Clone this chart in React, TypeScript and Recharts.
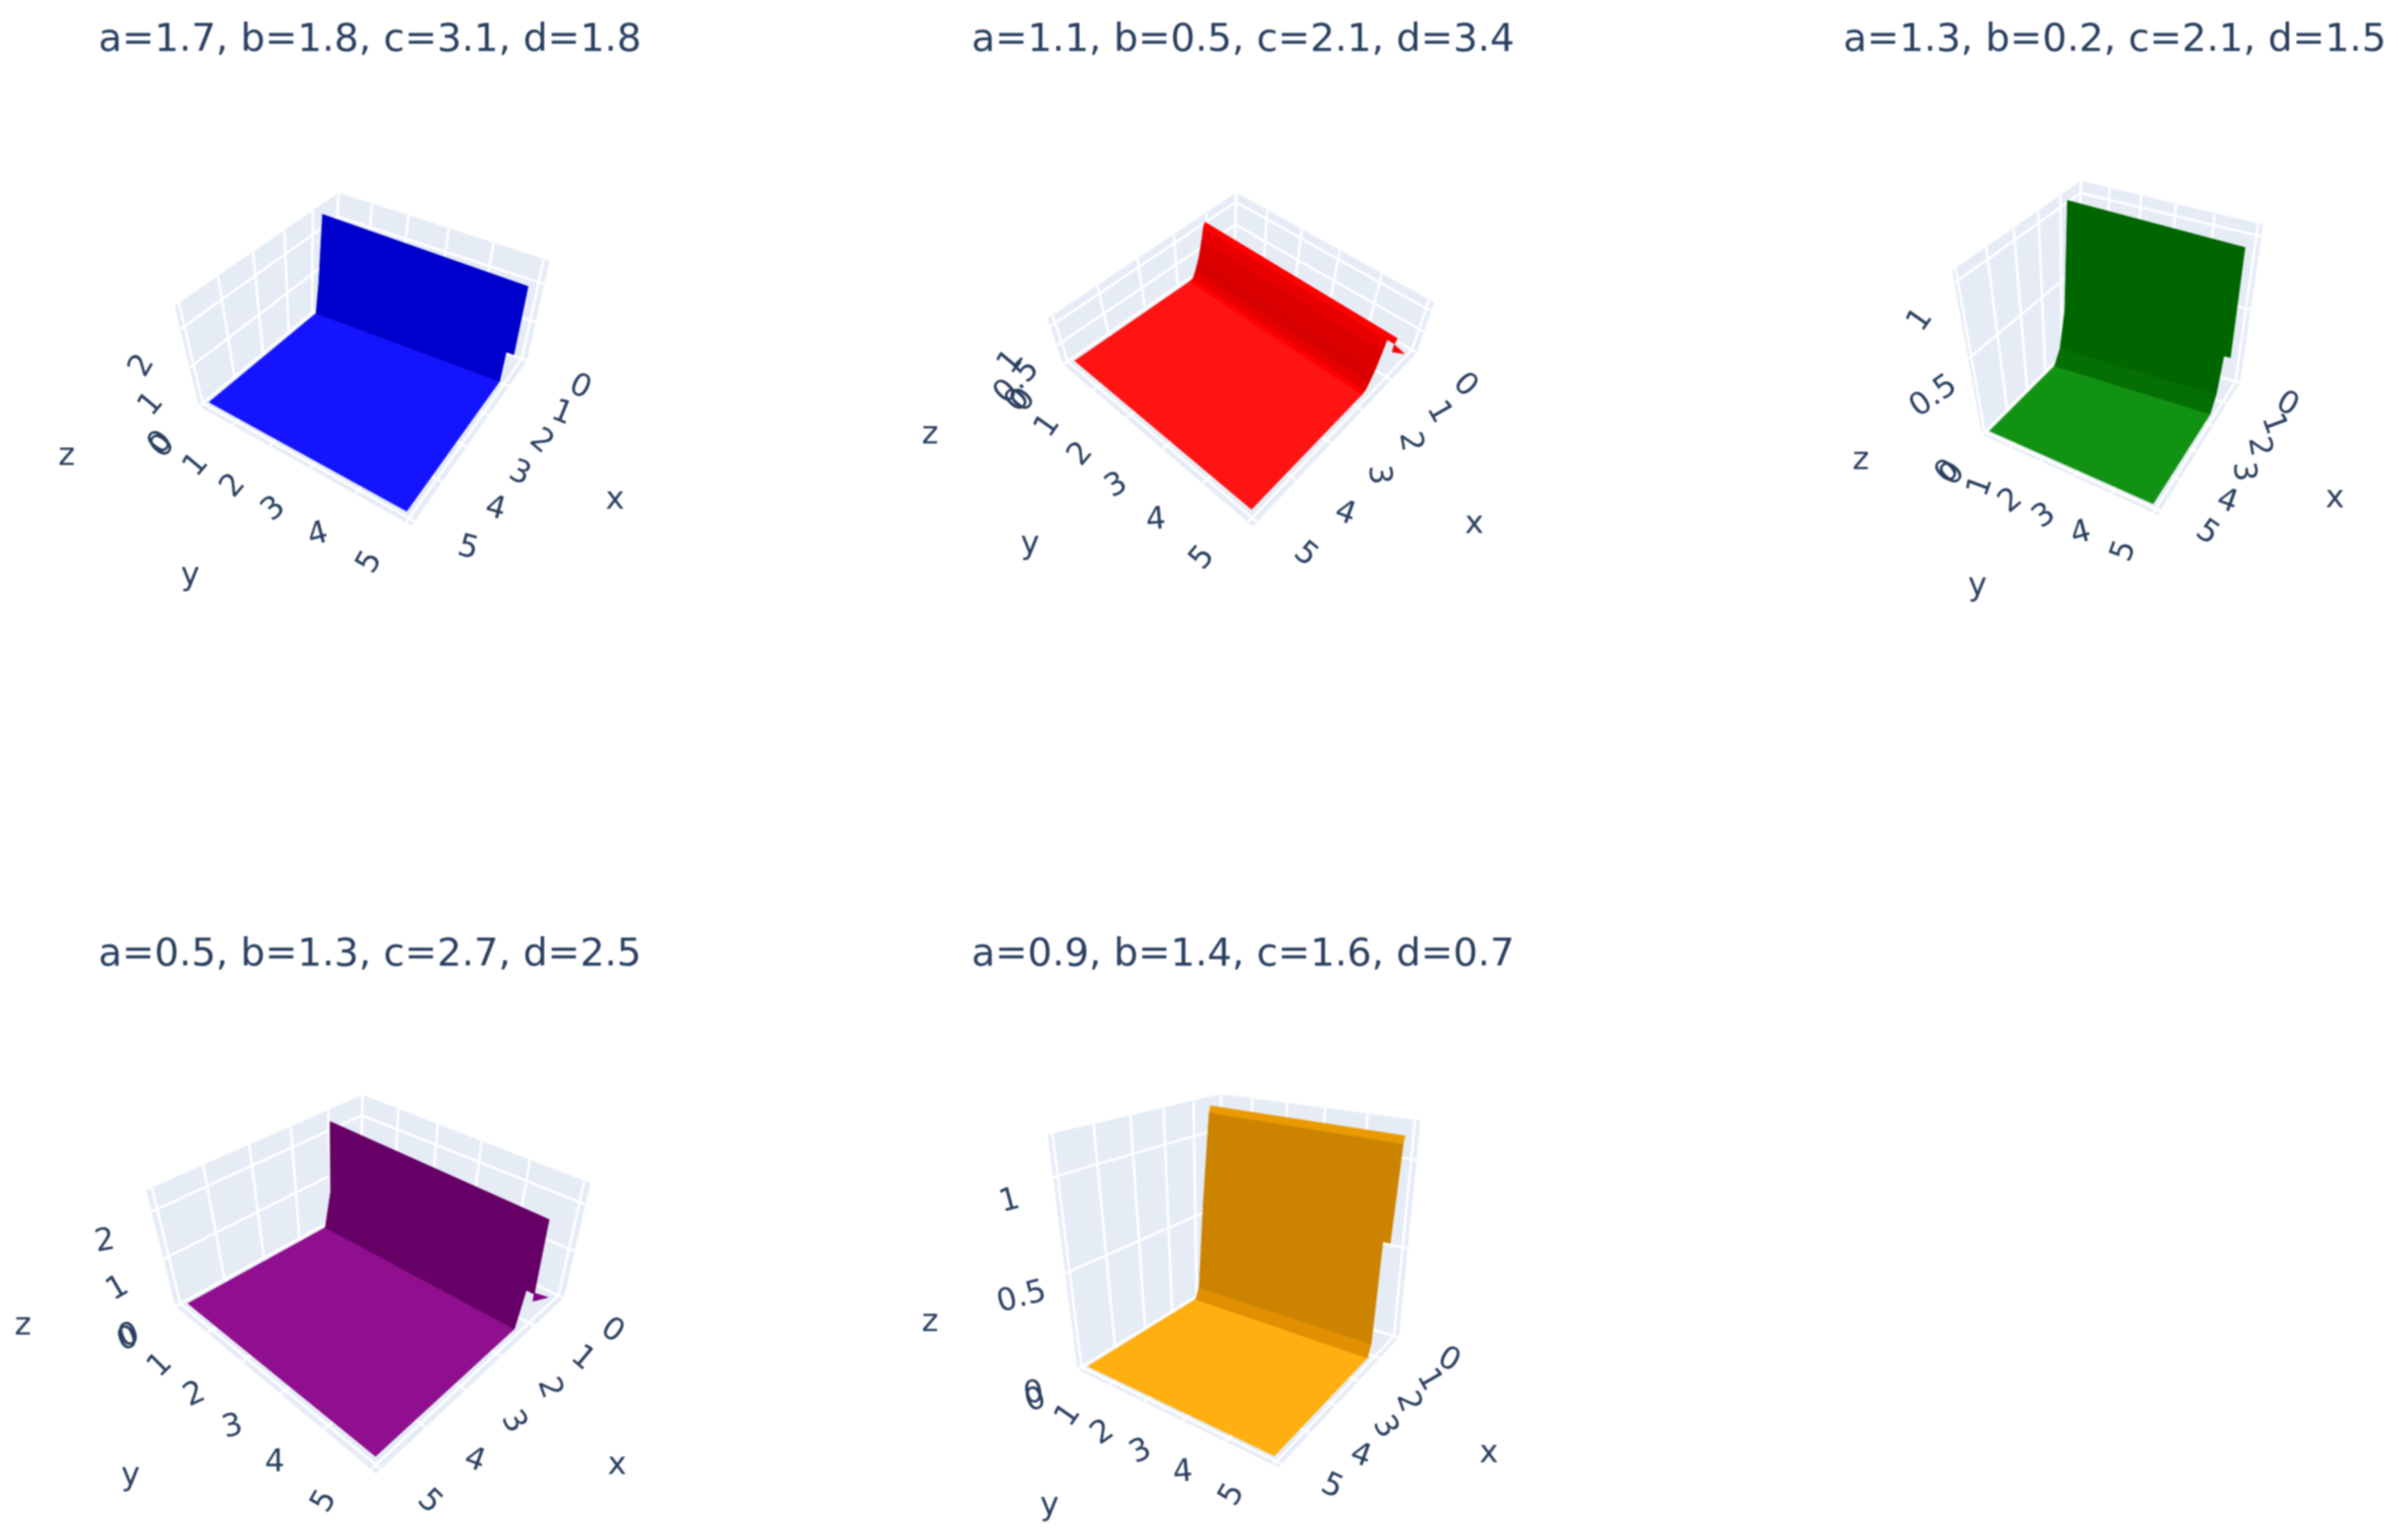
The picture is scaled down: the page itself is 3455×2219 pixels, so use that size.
import React from 'react'
import { ScatterChart, Scatter, XAxis, YAxis } from 'recharts'

type Pt = [number, number]

const titles = [
  'a=1.7, b=1.8, c=3.1, d=1.8',
  'a=1.1, b=0.5, c=2.1, d=3.4',
  'a=1.3, b=0.2, c=2.1, d=1.5',
  'a=0.5, b=1.3, c=2.7, d=2.5',
  'a=0.9, b=1.4, c=1.6, d=0.7'
]
const xTicks = [0, 1, 2, 3, 4, 5]
const yTicks = [0, 1, 2, 3, 4, 5]
const zTicksTall = [0, 1, 2]
const zTicksShort = [0, 0.5, 1]

const blueX = [4.9, 0.95, 0.85, 0.75]
const blueZ = [0, 0, 0.7, 2.42]
const blueFar = [4.9, 4.9, 5.05]

const redX = [4.9, 1.7, 1.6, 1.5, 1.37, 1.26, 1.2, 1.15]
const redZ = [0, 0, 0.02, 0.15, 0.4, 0.75, 1.0, 1.1]
const redFar = [4.9, 4.9, 4.9, 4.9, 4.9, 4.9, 5.05]

const greenX = [4.9, 1.6, 1.25, 0.95, 0.8]
const greenZ = [0, 0, 0.08, 0.3, 1.03]
const greenFar = [4.9, 4.9, 4.9, 5.05]

const purpleX = [4.9, 1.3, 1.1, 1.05]
const purpleZ = [0, 0, 0.7, 2.25]
const purpleFar = [4.9, 4.9, 5.05]

const orangeX = [4.9, 1.15, 1.0, 0.78, 0.55, 0.5]
const orangeZ = [0, 0, 0.06, 0.6, 1.13, 1.17]
const orangeFar = [4.9, 4.9, 4.9, 5.05, 5.05]

const redTailX = [1.2, 1.2, 0.55]
const redTailZ = [0.98, 0.8, 0.3]
const purpleTailX = [1.1, 1.1, 0.55]
const purpleTailZ = [0.72, 0.55, 0.3]

const FONT = '"DejaVu Sans", Verdana, sans-serif'
const TEXT = '#2a3f5f'
const WALL = '#e5ecf6'
const X_MAX = 5.1
const Y_MAX = 5.1
const Y_START = 0.1

const panels = [
  {
    frame: { left: 0, top: 0, width: 1140, height: 1000 },
    titleAt: [533, 53] as Pt,
    back: [480, 426] as Pt, backTop: [488, 278] as Pt,
    left_: [287, 585] as Pt, leftTop: [252, 441] as Pt,
    right: [759, 519] as Pt, rightTop: [791, 376] as Pt,
    front: [593, 757] as Pt,
    zMax: 2.6, zTicks: zTicksTall,
    sx: blueX, sz: blueZ, far: blueFar,
    bands: ['#1414ff', '#0000cc', '#0000cc'],
    tail: null as null | number[][], tailColor: '',
    xOff: [78, 36] as Pt, yOff: [-55, 56] as Pt, zOff: [-58, 51] as Pt,
    xRot: [25, 22, 40, 25, 15, 15], yRot: [-50, -50, -50, -40, -15, -60], zRot: [-50, -50, -60],
    xTitle: [886, 717] as Pt, yTitle: [274, 826] as Pt, zTitle: [96, 654] as Pt
  },
  {
    frame: { left: 1150, top: 0, width: 1150, height: 1000 },
    titleAt: [1791, 53] as Pt,
    back: [1779, 356] as Pt, backTop: [1781, 278] as Pt,
    left_: [1532, 525] as Pt, leftTop: [1510, 459] as Pt,
    right: [2041, 508] as Pt, rightTop: [2066, 436] as Pt,
    front: [1805, 758] as Pt,
    zMax: 1.2, zTicks: zTicksShort,
    sx: redX, sz: redZ, far: redFar,
    bands: ['#ff1414', '#ff0000', '#e80000', '#d80000', '#dd0000', '#e80000', '#ff0000'],
    tail: [redTailX, redTailZ], tailColor: '#ff0000',
    xOff: [72, 45] as Pt, yOff: [-68, 50] as Pt, zOff: [-60, 50] as Pt,
    xRot: [45, 60, 80, 85, 20, 40], yRot: [-50, -55, -50, -30, -5, -50], zRot: [-50, -45, -50],
    xTitle: [2124, 752] as Pt, yTitle: [1484, 781] as Pt, zTitle: [1340, 623] as Pt
  },
  {
    frame: { left: 2400, top: 0, width: 1055, height: 1000 },
    titleAt: [3047, 53] as Pt,
    back: [2992, 491] as Pt, backTop: [2998, 261] as Pt,
    left_: [2856, 626] as Pt, leftTop: [2813, 390] as Pt,
    right: [3227, 551] as Pt, rightTop: [3260, 324] as Pt,
    front: [3109, 741] as Pt,
    zMax: 1.08, zTicks: zTicksShort,
    sx: greenX, sz: greenZ, far: greenFar,
    bands: ['#129212', '#056f06', '#006600', '#006600'],
    tail: null, tailColor: '',
    xOff: [70, 29] as Pt, yOff: [-45, 55] as Pt, zOff: [-52, 52] as Pt,
    xRot: [30, 70, 80, 85, 20, 35], yRot: [-50, -70, -40, -35, -15, -70], zRot: [-45, -35, -55],
    xTitle: [3364, 715] as Pt, yTitle: [2849, 841] as Pt, zTitle: [2681, 660] as Pt
  },
  {
    frame: { left: 0, top: 1300, width: 1140, height: 919 },
    titleAt: [533, 1371] as Pt,
    back: [520, 1736] as Pt, backTop: [522, 1578] as Pt,
    left_: [253, 1882] as Pt, leftTop: [211, 1715] as Pt,
    right: [812, 1870] as Pt, rightTop: [850, 1705] as Pt,
    front: [542, 2123] as Pt,
    zMax: 2.45, zTicks: zTicksTall,
    sx: purpleX, sz: purpleZ, far: purpleFar,
    bands: ['#8f0f8f', '#660066', '#660066'],
    tail: [purpleTailX, purpleTailZ], tailColor: '#800080',
    xOff: [72, 45] as Pt, yOff: [-70, 45] as Pt, zOff: [-68, 40] as Pt,
    xRot: [35, 40, 70, 60, 20, 45], yRot: [-20, -45, -25, -15, 0, -60], zRot: [-20, -30, -10],
    xTitle: [889, 2108] as Pt, yTitle: [188, 2123] as Pt, zTitle: [33, 1907] as Pt
  },
  {
    frame: { left: 1150, top: 1300, width: 1150, height: 919 },
    titleAt: [1791, 1371] as Pt,
    back: [1756, 1848] as Pt, backTop: [1759, 1577] as Pt,
    left_: [1553, 1973] as Pt, leftTop: [1510, 1635] as Pt,
    right: [2015, 1927] as Pt, rightTop: [2046, 1615] as Pt,
    front: [1842, 2114] as Pt,
    zMax: 1.22, zTicks: zTicksShort,
    sx: orangeX, sz: orangeZ, far: orangeFar,
    bands: ['#ffb010', '#e09000', '#cc8400', '#cc8400', '#e89a00'],
    tail: null, tailColor: '',
    xOff: [74, 30] as Pt, yOff: [-62, 42] as Pt, zOff: [-64, 32] as Pt,
    xRot: [30, 60, 70, 60, 20, 25], yRot: [-20, -55, -35, -25, -5, -60], zRot: [-10, -15, -15],
    xTitle: [2145, 2091] as Pt, yTitle: [1512, 2166] as Pt, zTitle: [1340, 1902] as Pt
  }
]

type Panel = (typeof panels)[number]

const PERSPECTIVE = 0.3

// bounding box corners -> screen, with a small foreshortening along x and y
const project = (p: Panel, x: number, y: number, z: number) => {
  const warp = (t: number) => t / (1 + PERSPECTIVE * (1 - t))
  const u = warp(x / X_MAX)
  const v = warp(y / Y_MAX)
  const w = z / p.zMax
  const frontTop: Pt = [
    p.front[0] + p.leftTop[0] - p.left_[0] + p.rightTop[0] - p.right[0] - p.backTop[0] + p.back[0],
    p.front[1] + p.leftTop[1] - p.left_[1] + p.rightTop[1] - p.right[1] - p.backTop[1] + p.back[1]
  ]
  const bi = (a: Pt, b: Pt, c: Pt, d: Pt, i: number) =>
    (a[i] * (1 - u) + b[i] * u) * (1 - v) + (c[i] * (1 - u) + d[i] * u) * v
  const at = (i: number) =>
    bi(p.back, p.left_, p.right, p.front, i) * (1 - w) + bi(p.backTop, p.leftTop, p.rightTop, frontTop, i) * w
  return { px: at(0), py: at(1) }
}

const NoDot = () => <g />

// "size" is taken by Scatter itself, so the font size travels as fontPx
const LabelMark = (props: any) => {
  const { cx, cy, label, rot, fontPx } = props
  return (
    <text
      x={cx}
      y={cy}
      transform={`rotate(${rot || 0} ${cx} ${cy})`}
      textAnchor="middle"
      dominantBaseline="central"
      fontFamily={FONT}
      fontSize={fontPx}
      fill={TEXT}
    >
      {label}
    </text>
  )
}

const area = (key: string, pts: { px: number; py: number }[], color: string) => (
  <Scatter
    key={key}
    data={[...pts, pts[0]]}
    fill={color}
    line={{ fill: color, stroke: color, strokeWidth: 1 }}
    shape={NoDot}
    legendType="none"
    isAnimationActive={false}
  />
)

const rule = (key: string, pts: { px: number; py: number }[]) => (
  <Scatter
    key={key}
    data={pts}
    fill="#ffffff"
    line={{ stroke: '#ffffff', strokeWidth: 3.5, fill: 'none' }}
    shape={NoDot}
    legendType="none"
    isAnimationActive={false}
  />
)

const SurfacePanel = ({ p, title }: { p: Panel; title: string }) => {
  const P = (x: number, y: number, z: number) => project(p, x, y, z)
  const marks: React.ReactNode[] = []

  // walls and floor
  marks.push(area('wall-l', [P(0, 0, 0), P(X_MAX, 0, 0), P(X_MAX, 0, p.zMax), P(0, 0, p.zMax)], WALL))
  marks.push(area('wall-r', [P(0, 0, 0), P(0, Y_MAX, 0), P(0, Y_MAX, p.zMax), P(0, 0, p.zMax)], WALL))
  marks.push(area('floor', [P(0, 0, 0), P(X_MAX, 0, 0), P(X_MAX, Y_MAX, 0), P(0, Y_MAX, 0)], WALL))

  // grid
  xTicks.forEach(t => {
    marks.push(rule(`gx-f${t}`, [P(t, 0, 0), P(t, Y_MAX, 0)]))
    marks.push(rule(`gx-w${t}`, [P(t, 0, 0), P(t, 0, p.zMax)]))
  })
  yTicks.forEach(t => {
    marks.push(rule(`gy-f${t}`, [P(0, t, 0), P(X_MAX, t, 0)]))
    marks.push(rule(`gy-w${t}`, [P(0, t, 0), P(0, t, p.zMax)]))
  })
  p.zTicks.forEach(t => {
    marks.push(rule(`gz-l${t}`, [P(0, 0, t), P(X_MAX, 0, t)]))
    marks.push(rule(`gz-r${t}`, [P(0, 0, t), P(0, Y_MAX, t)]))
  })

  // surface strips from the far floor edge up to the ridge
  p.bands.forEach((color, i) => {
    const y1 = p.far[i]
    marks.push(
      area(
        `strip${i}`,
        [
          P(p.sx[i], Y_START, p.sz[i]),
          P(p.sx[i + 1], Y_START, p.sz[i + 1]),
          P(p.sx[i + 1], y1, p.sz[i + 1]),
          P(p.sx[i], y1, p.sz[i])
        ],
        color
      )
    )
  })
  if (p.tail) {
    const [tx, tz] = p.tail
    marks.push(area('tail', tx.map((x, i) => P(x, 5.05, tz[i])), p.tailColor))
  }

  const shift = (q: { px: number; py: number }, o: Pt) => ({ px: q.px + o[0], py: q.py + o[1] })
  const labels = [
    ...xTicks.map((t, i) => ({ ...shift(P(t, Y_MAX, 0), p.xOff), label: String(t), rot: p.xRot[i], fontPx: 45 })),
    ...yTicks.map((t, i) => ({ ...shift(P(X_MAX, t, 0), p.yOff), label: String(t), rot: p.yRot[i], fontPx: 45 })),
    ...p.zTicks.map((t, i) => ({ ...shift(P(X_MAX, 0, t), p.zOff), label: String(t), rot: p.zRot[i], fontPx: 45 })),
    { px: p.xTitle[0], py: p.xTitle[1], label: 'x', rot: 0, fontPx: 46 },
    { px: p.yTitle[0], py: p.yTitle[1], label: 'y', rot: 0, fontPx: 46 },
    { px: p.zTitle[0], py: p.zTitle[1], label: 'z', rot: 0, fontPx: 46 },
    { px: p.titleAt[0], py: p.titleAt[1], label: title, rot: 0, fontPx: 55.7 }
  ]

  const { left, top, width, height } = p.frame
  return (
    <div style={{ position: 'absolute', left, top, width, height, filter: 'blur(1px)' }}>
      <ScatterChart width={width} height={height} margin={{ top: 0, right: 0, bottom: 0, left: 0 }}>
        <XAxis type="number" dataKey="px" domain={[left, left + width]} hide allowDataOverflow />
        <YAxis type="number" dataKey="py" domain={[top, top + height]} reversed hide allowDataOverflow />
        {marks}
        <Scatter data={labels} shape={LabelMark} legendType="none" isAnimationActive={false} />
      </ScatterChart>
    </div>
  )
}

export default function App() {
  return (
    <div style={{ position: 'absolute', left: 0, top: 0, width: 3455, height: 2219, background: '#fff', overflow: 'hidden' }}>
      {panels.map((p, i) => (
        <SurfacePanel key={i} p={p} title={titles[i]} />
      ))}
    </div>
  )
}
